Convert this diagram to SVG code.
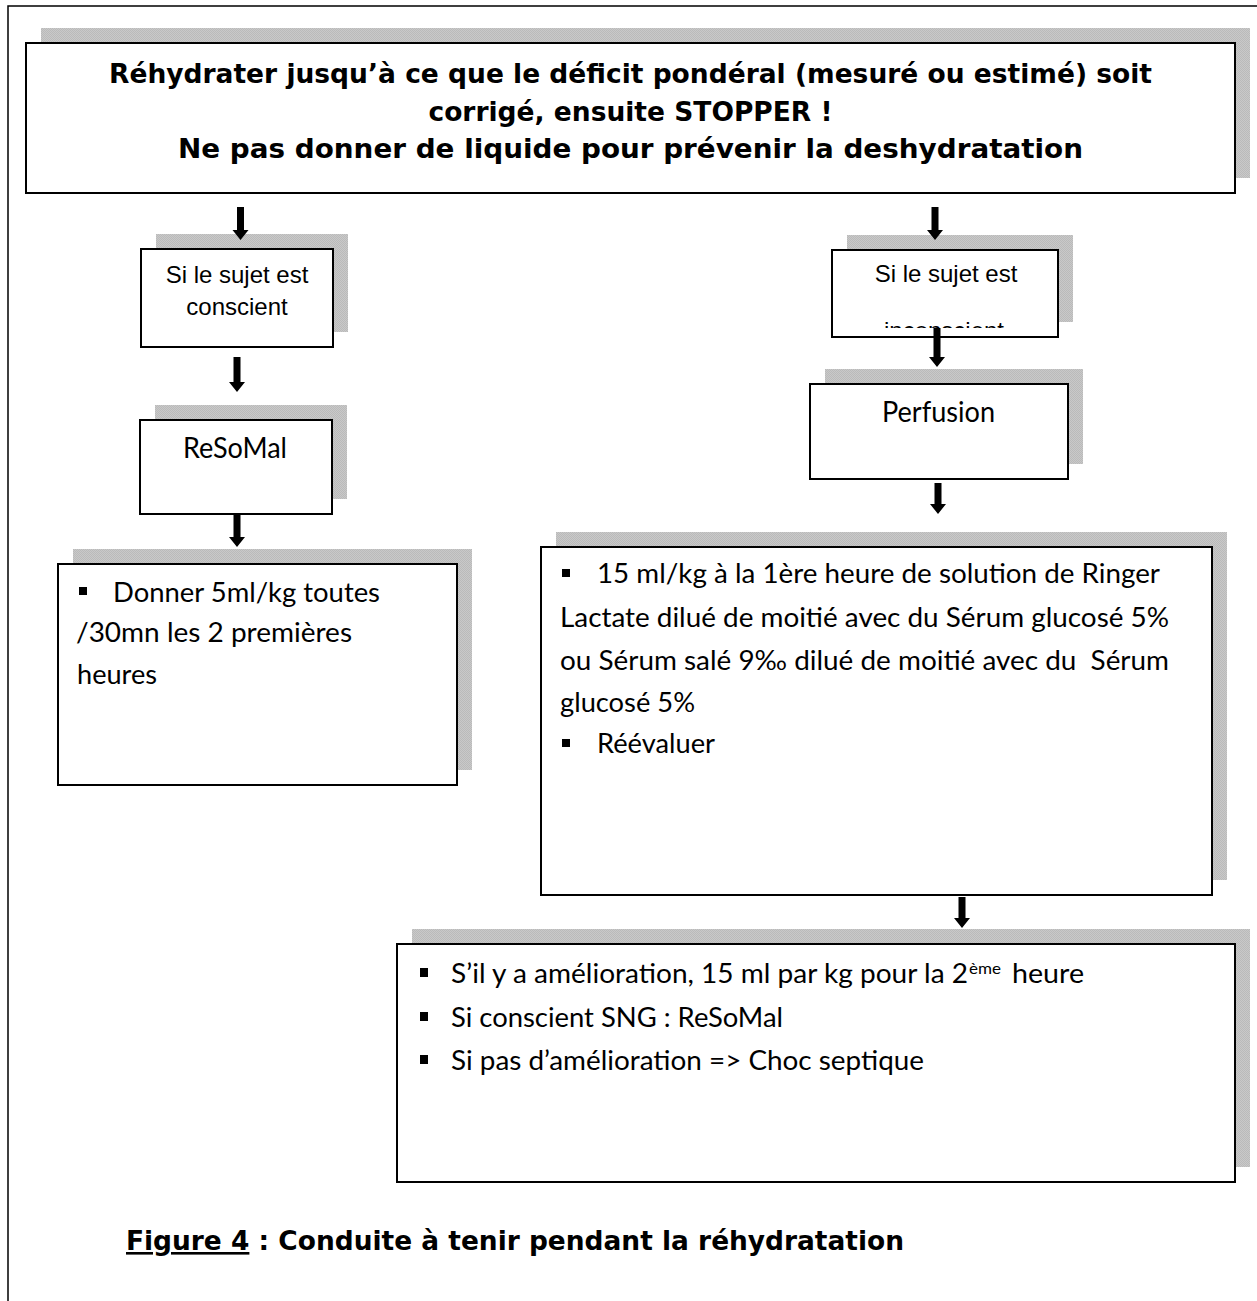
<svg xmlns="http://www.w3.org/2000/svg" width="1257" height="1301" viewBox="0 0 1257 1301">
  <style>
    .box { fill: #ffffff; stroke: #000000; stroke-width: 2; }
    .shadow { fill: url(#dither); }
    .title { font-family: "DejaVu Sans", Verdana, sans-serif; font-weight: bold; font-size: 26.5px; fill: #000; }
    .arial { font-family: "Liberation Sans", Arial, sans-serif; font-size: 24px; fill: #000; }
    .body { font-family: Lato, "Open Sans", sans-serif; font-size: 26px; fill: #000; }
    .big { font-family: Lato, "Open Sans", sans-serif; font-size: 28px; fill: #000; }
    .sup { font-family: Lato, "Open Sans", sans-serif; font-size: 16px; fill: #000; }
    .caption { font-family: "DejaVu Sans", Verdana, sans-serif; font-weight: bold; font-size: 26px; fill: #000; }
    .bullet { fill: #000; }
    .arrow { fill: #000; }
  </style>
  <defs>
    <pattern id="dither" width="2" height="2" patternUnits="userSpaceOnUse">
      <rect width="2" height="2" fill="#c9c9c9"/>
      <rect width="1" height="1" fill="#bababa"/>
      <rect x="1" y="1" width="1" height="1" fill="#bababa"/>
    </pattern>
    <clipPath id="clip-inconscient">
      <rect x="832" y="250" width="226" height="78"/>
    </clipPath>
  </defs>

  <rect width="1257" height="1301" fill="#ffffff"/>
  <!-- page frame -->
  <rect x="8" y="6" width="1262" height="1320" fill="none" stroke="#000" stroke-width="1.5"/>

  <g id="node-objectif">
    <rect class="shadow" x="41" y="28" width="1209" height="150"/>
    <rect class="box" x="26" y="43" width="1209" height="150"/>
    <text class="title" x="630.5" y="83" text-anchor="middle" textLength="1043" lengthAdjust="spacingAndGlyphs">Réhydrater jusqu’à ce que le déficit pondéral (mesuré ou estimé) soit</text>
    <text class="title" x="630.5" y="120.5" text-anchor="middle">corrigé, ensuite STOPPER !</text>
    <text class="title" x="630.5" y="158" text-anchor="middle" textLength="905" lengthAdjust="spacingAndGlyphs">Ne pas donner de liquide pour prévenir la deshydratation</text>
  </g>

  <g id="node-conscient">
    <rect class="shadow" x="156" y="234" width="192" height="98"/>
    <rect class="box" x="141" y="249" width="192" height="98"/>
    <text class="arial" x="237" y="283" text-anchor="middle">Si le sujet est</text>
    <text class="arial" x="237" y="315" text-anchor="middle">conscient</text>
  </g>

  <g id="node-resomal">
    <rect class="shadow" x="155" y="405" width="192" height="94"/>
    <rect class="box" x="140" y="420" width="192" height="94"/>
    <text class="big" x="183" y="458" textLength="104" lengthAdjust="spacingAndGlyphs">ReSoMal</text>
  </g>

  <g id="node-donner">
    <rect class="shadow" x="73" y="549" width="399" height="221"/>
    <rect class="box" x="58" y="564" width="399" height="221"/>
    <rect class="bullet" x="79" y="587" width="8" height="8"/>
    <text class="body" x="113" y="602" textLength="267" lengthAdjust="spacingAndGlyphs">Donner 5ml/kg toutes</text>
    <text class="body" x="76" y="642" textLength="276" lengthAdjust="spacingAndGlyphs">/30mn les 2 premières</text>
    <text class="body" x="77" y="684" textLength="80" lengthAdjust="spacingAndGlyphs">heures</text>
  </g>

  <g id="node-inconscient">
    <rect class="shadow" x="847" y="235" width="226" height="87"/>
    <rect class="box" x="832" y="250" width="226" height="87"/>
    <text class="arial" x="946" y="282" text-anchor="middle">Si le sujet est</text>
    <text class="arial" x="944" y="339" text-anchor="middle" clip-path="url(#clip-inconscient)">inconscient</text>
  </g>

  <g id="node-perfusion">
    <rect class="shadow" x="825" y="369" width="258" height="95"/>
    <rect class="box" x="810" y="384" width="258" height="95"/>
    <text class="big" x="882" y="422" textLength="113" lengthAdjust="spacingAndGlyphs">Perfusion</text>
  </g>

  <g id="node-ringer">
    <rect class="shadow" x="556" y="532" width="671" height="348"/>
    <rect class="box" x="541" y="547" width="671" height="348"/>
    <rect class="bullet" x="562" y="569" width="8" height="8"/>
    <text class="body" x="597" y="583" textLength="563" lengthAdjust="spacingAndGlyphs">15 ml/kg à la 1ère heure de solution de Ringer</text>
    <text class="body" x="560" y="627" textLength="609" lengthAdjust="spacingAndGlyphs">Lactate dilué de moitié avec du Sérum glucosé 5%</text>
    <text class="body" x="560" y="670" textLength="609" lengthAdjust="spacingAndGlyphs" xml:space="preserve">ou Sérum salé 9‰ dilué de moitié avec du  Sérum</text>
    <text class="body" x="560" y="712" textLength="135" lengthAdjust="spacingAndGlyphs">glucosé 5%</text>
    <rect class="bullet" x="562" y="739" width="8" height="8"/>
    <text class="body" x="597" y="753" textLength="118" lengthAdjust="spacingAndGlyphs">Réévaluer</text>
  </g>

  <g id="node-suite">
    <rect class="shadow" x="412" y="929" width="838" height="238"/>
    <rect class="box" x="397" y="944" width="838" height="238"/>
    <rect class="bullet" x="420" y="968" width="8" height="9"/>
    <text class="body" x="451" y="983" textLength="517" lengthAdjust="spacingAndGlyphs">S’il y a amélioration, 15 ml par kg pour la 2</text>
    <text class="sup" x="969" y="974" textLength="32" lengthAdjust="spacingAndGlyphs">ème</text>
    <text class="body" x="1012" y="983" textLength="72" lengthAdjust="spacingAndGlyphs">heure</text>
    <rect class="bullet" x="420" y="1012" width="8" height="9"/>
    <text class="body" x="451" y="1027" textLength="332" lengthAdjust="spacingAndGlyphs">Si conscient SNG : ReSoMal</text>
    <rect class="bullet" x="420" y="1055" width="8" height="9"/>
    <text class="body" x="451" y="1070" textLength="473" lengthAdjust="spacingAndGlyphs">Si pas d’amélioration =&gt; Choc septique</text>
  </g>

  <g id="connectors">
    <path class="arrow" d="M237 207 H244 V230 H248.5 L240.5 240 L232.5 230 H237 Z"/>
    <path class="arrow" d="M931.5 207 H938.5 V230 H943 L935 240 L927 230 H931.5 Z"/>
    <path class="arrow" d="M233.5 357 H240.5 V382 H245 L237 392 L229 382 H233.5 Z"/>
    <path class="arrow" d="M933.5 328 H940.5 V357 H945 L937 367 L929 357 H933.5 Z"/>
    <path class="arrow" d="M934.5 483 H941.5 V504 H946 L938 514 L930 504 H934.5 Z"/>
    <path class="arrow" d="M233.5 515 H240.5 V537 H245 L237 547 L229 537 H233.5 Z"/>
    <path class="arrow" d="M958.5 897 H965.5 V918 H970 L962 928 L954 918 H958.5 Z"/>
  </g>

  <g id="caption">
    <text class="caption" x="126" y="1250" textLength="778" lengthAdjust="spacingAndGlyphs"><tspan text-decoration="underline">Figure 4</tspan> : Conduite à tenir pendant la réhydratation</text>
  </g>
</svg>
